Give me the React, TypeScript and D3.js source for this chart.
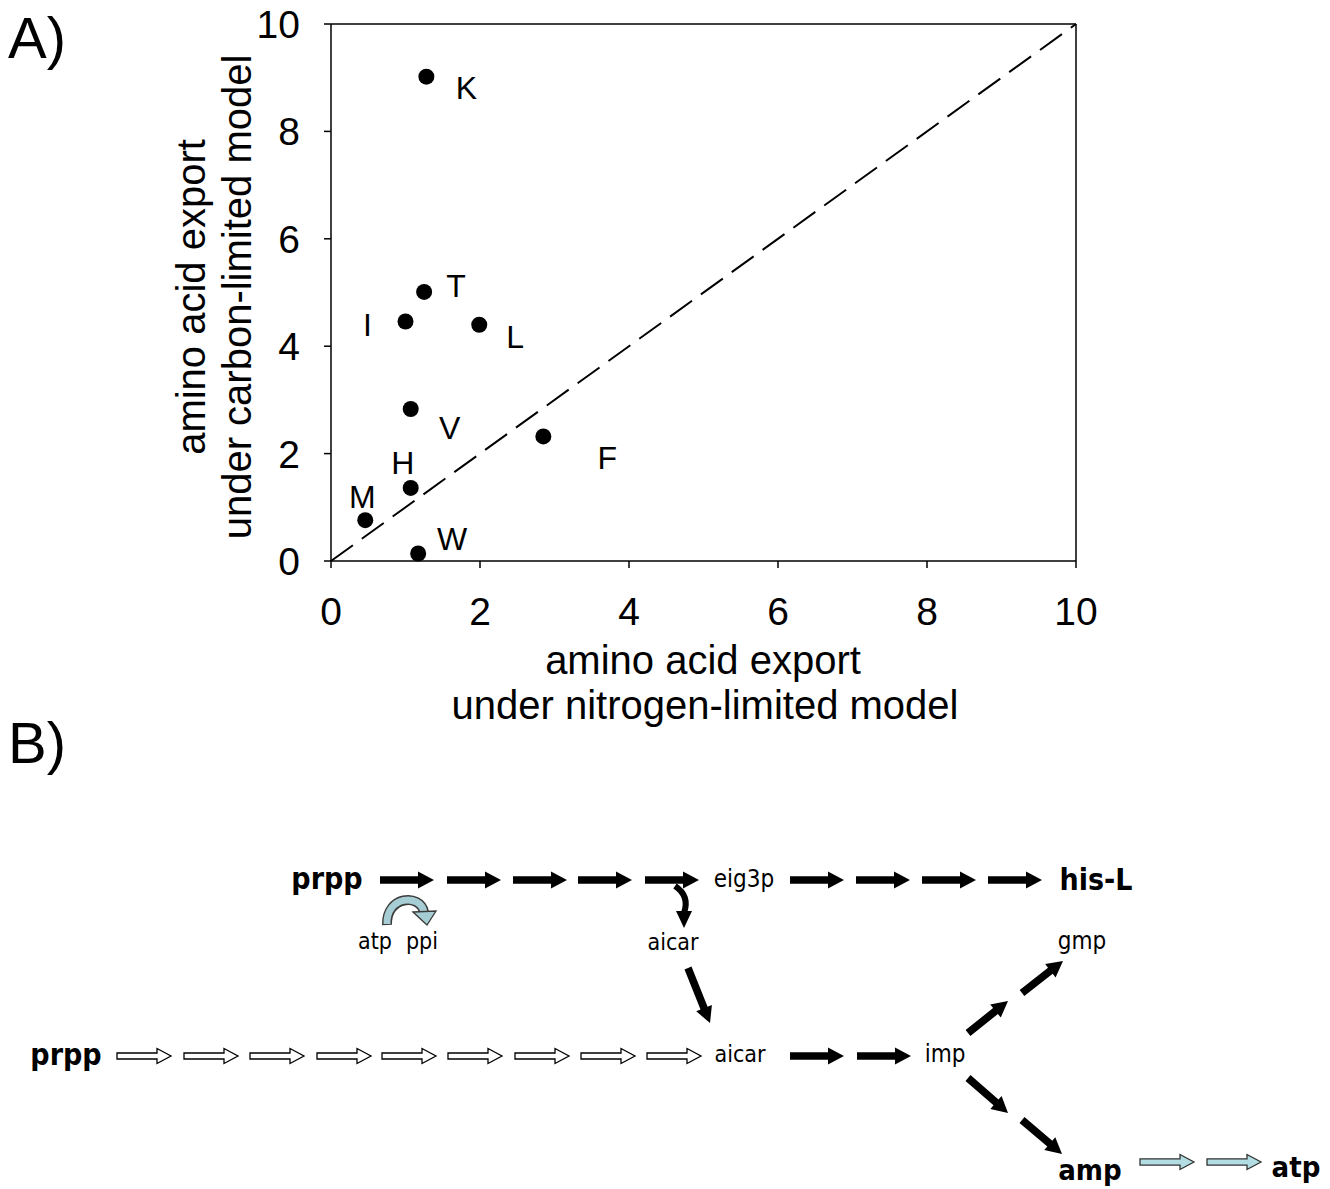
import React from "react";
import * as d3 from "d3";

// ---- Panel A data ----
const aminoAcids = ["K", "T", "I", "L", "V", "F", "H", "M", "W"];
const nitrogenExport = [1.28, 1.25, 1.0, 1.99, 1.07, 2.85, 1.07, 0.46, 1.17];
const carbonExport = [9.02, 5.01, 4.46, 4.4, 2.83, 2.32, 1.36, 0.76, 0.14];
const xTicks = [0, 2, 4, 6, 8, 10];
const yTicks = [0, 2, 4, 6, 8, 10];
const identityLine = [0, 10];

// label offsets (px) relative to each point
const labelDx = [40, 32, -38, 36, 39, 64, -8, -3, 34];
const labelDy = [11, -6, 3, 12, 18, 21, -25, -24, -15];

// ---- Panel B (pathway diagram) layout ----
const topRowStarts = [380, 447, 513, 578, 645, 790, 856, 922, 988];
const bottomHollowStarts = [117, 184, 250, 317, 382, 448, 515, 581, 647];
const bottomBlackStarts = [790, 857];
const blueStarts = [1140, 1207];
const diagArrows: [number, number, number, number][] = [
  [688, 968, 710, 1023],
  [968, 1033, 1008, 1001],
  [1022, 993, 1063, 961],
  [968, 1078, 1008, 1113],
  [1022, 1120, 1062, 1154],
];
const diagramLabels = [
  { t: "prpp", x: 327, y: 889, bold: true, size: 30 },
  { t: "eig3p", x: 744, y: 887, bold: false, size: 24 },
  { t: "his-L", x: 1096, y: 890, bold: true, size: 30 },
  { t: "atp", x: 375, y: 949, bold: false, size: 23 },
  { t: "ppi", x: 422, y: 949, bold: false, size: 23 },
  { t: "aicar", x: 673, y: 950, bold: false, size: 23 },
  { t: "gmp", x: 1082, y: 949, bold: false, size: 24 },
  { t: "prpp", x: 66, y: 1065, bold: true, size: 30 },
  { t: "aicar", x: 740, y: 1062, bold: false, size: 23 },
  { t: "imp", x: 945, y: 1062, bold: false, size: 24 },
  { t: "amp", x: 1090, y: 1180, bold: true, size: 29 },
  { t: "atp", x: 1296, y: 1177, bold: true, size: 29 },
];

function arrowPoints(
  x1: number, y1: number, x2: number, y2: number,
  sh: number, hh: number, hl: number
) {
  const dx = x2 - x1, dy = y2 - y1;
  const len = Math.hypot(dx, dy);
  const ux = dx / len, uy = dy / len;
  const nx = -uy, ny = ux;
  const bx = x2 - ux * hl, by = y2 - uy * hl;
  const pts = [
    [x1 + nx * sh, y1 + ny * sh],
    [bx + nx * sh, by + ny * sh],
    [bx + nx * hh, by + ny * hh],
    [x2, y2],
    [bx - nx * hh, by - ny * hh],
    [bx - nx * sh, by - ny * sh],
    [x1 - nx * sh, y1 - ny * sh],
  ];
  return pts.map((p) => p.map((v) => v.toFixed(1)).join(",")).join(" ");
}

const AFONT = "'Liberation Sans', Arial, Helvetica, sans-serif";
const BFONT = "'DejaVu Sans Condensed', 'DejaVu Sans', Tahoma, sans-serif";

export default function App() {
  const x = d3.scaleLinear().domain([0, 10]).range([331, 1076]);
  const y = d3.scaleLinear().domain([0, 10]).range([561, 24]);
  const diag = d3.line<number>().x((d) => x(d)).y((d) => y(d));

  const ARROW_LEN = 54;

  return (
    <svg
      width={1330}
      height={1189}
      viewBox="0 0 1330 1189"
      style={{ position: "absolute", left: 0, top: 0, background: "#fff" }}
    >
      <rect x={0} y={0} width={1330} height={1189} fill="#fff" />
      {/* Panel labels */}
      <text x={8} y={58} fontFamily={AFONT} fontSize={58}>A)</text>
      <text x={8} y={763} fontFamily={AFONT} fontSize={58}>B)</text>

      {/* Panel A frame */}
      <g stroke="#000" strokeWidth={1.5} fill="none">
        <line x1={x(0)} x2={x(10)} y1={y(10)} y2={y(10)} />
        <line x1={x(10)} x2={x(10)} y1={y(10)} y2={y(0)} />
        <line x1={x(0)} x2={x(10)} y1={y(0)} y2={y(0)} />
        <line x1={x(0)} x2={x(0)} y1={y(10)} y2={y(0)} />
      </g>
      {/* x ticks */}
      <g fontFamily={AFONT} fontSize={39} textAnchor="middle">
        {xTicks.map((t) => (
          <g key={"xt" + t}>
            <line x1={x(t)} x2={x(t)} y1={y(0)} y2={y(0) + 7} stroke="#000" strokeWidth={1.5} />
            <text x={x(t)} y={y(0) + 64}>{t}</text>
          </g>
        ))}
      </g>
      {/* y ticks */}
      <g fontFamily={AFONT} fontSize={39} textAnchor="end">
        {yTicks.map((t) => (
          <g key={"yt" + t}>
            <line x1={x(0) - 7} x2={x(0)} y1={y(t)} y2={y(t)} stroke="#000" strokeWidth={1.5} />
            <text x={x(0) - 31} y={y(t)} dy="0.36em">{t}</text>
          </g>
        ))}
      </g>
      {/* axis titles */}
      <g fontFamily={AFONT} fontSize={40} textAnchor="middle">
        <text x={703} y={674}>amino acid export</text>
        <text x={705} y={719}>under nitrogen-limited model</text>
        <text transform="translate(205,297) rotate(-90)">amino acid export</text>
        <text transform="translate(251,297) rotate(-90)">under carbon-limited model</text>
      </g>
      {/* dashed identity */}
      <path
        d={diag(identityLine) || ""}
        stroke="#000"
        strokeWidth={2}
        strokeDasharray="27 11"
        fill="none"
      />
      {/* points */}
      {aminoAcids.map((a, i) => (
        <circle key={"p" + a} cx={x(nitrogenExport[i])} cy={y(carbonExport[i])} r={8} fill="#000" />
      ))}
      <g fontFamily={AFONT} fontSize={32} textAnchor="middle">
        {aminoAcids.map((a, i) => (
          <text
            key={"l" + a}
            x={x(nitrogenExport[i]) + labelDx[i]}
            y={y(carbonExport[i]) + labelDy[i]}
            dy="0.36em"
          >
            {a}
          </text>
        ))}
      </g>

      {/* Panel B */}
      {topRowStarts.map((s, i) => (
        <polygon key={"tr" + i} points={arrowPoints(s, 880, s + ARROW_LEN, 880, 3.8, 8.5, 16)} fill="#000" />
      ))}
      {bottomHollowStarts.map((s, i) => (
        <polygon
          key={"bh" + i}
          points={arrowPoints(s, 1056, s + ARROW_LEN, 1056, 3, 7.5, 14)}
          fill="#fff"
          stroke="#000"
          strokeWidth={1.3}
        />
      ))}
      {bottomBlackStarts.map((s, i) => (
        <polygon key={"bb" + i} points={arrowPoints(s, 1056, s + ARROW_LEN, 1056, 3.8, 8.5, 16)} fill="#000" />
      ))}
      {blueStarts.map((s, i) => (
        <polygon
          key={"bl" + i}
          points={arrowPoints(s, 1162, s + ARROW_LEN, 1162, 3.2, 7.5, 14)}
          fill="#b2dde3"
          stroke="#333"
          strokeWidth={1.3}
        />
      ))}
      {diagArrows.map((a, i) => (
        <polygon key={"da" + i} points={arrowPoints(a[0], a[1], a[2], a[3], 3.8, 8.5, 16)} fill="#000" />
      ))}
      {/* curved black arrow to aicar */}
      <path d="M675,886 Q690,896 684,913" stroke="#000" strokeWidth={6} fill="none" />
      <polygon points="676,911 692,911 684,928" fill="#000" />
      {/* curved atp -> ppi arrow */}
      <path d="M387,925 C386,896 420,893 424,912" stroke="#3a3a3a" strokeWidth={10} fill="none" />
      <path d="M387,924 C386,896 420,893 424,912" stroke="#a7cdd4" strokeWidth={7} fill="none" />
      <polygon points="413,912 436,911 427,925" fill="#a7cdd4" stroke="#3a3a3a" strokeWidth={1.3} />

      <g fontFamily={BFONT} textAnchor="middle">
        {diagramLabels.map((l, i) => (
          <text
            key={"dl" + i}
            x={l.x}
            y={l.y}
            fontSize={l.size}
            fontWeight={l.bold ? "bold" : "normal"}
          >
            {l.t}
          </text>
        ))}
      </g>
    </svg>
  );
}
